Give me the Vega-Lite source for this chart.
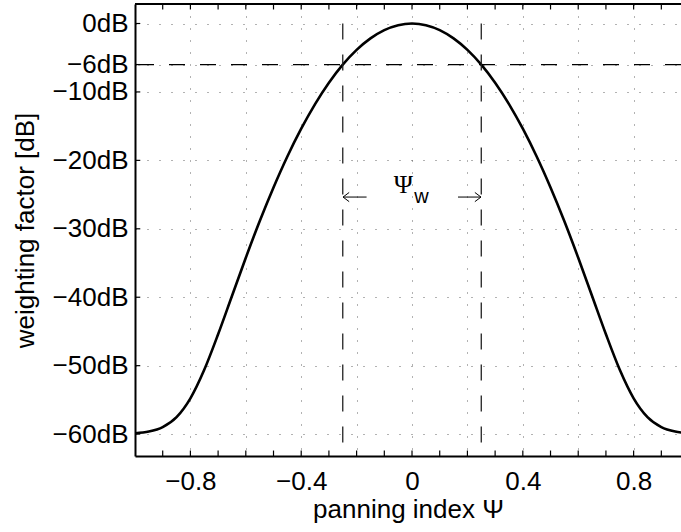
{
  "$schema": "https://vega.github.io/schema/vega-lite/v6.json",
  "width": 546,
  "height": 452,
  "autosize": {"type": "none"},
  "padding": {"left": 135, "top": 4, "right": 0, "bottom": 76},
  "background": "white",
  "config": {
    "view": {"stroke": null},
    "font": "Liberation Sans",
    "axis": {
      "labelFont": "Liberation Sans",
      "titleFont": "Liberation Sans",
      "labelFontSize": 26,
      "titleFontSize": 26,
      "labelColor": "black",
      "titleColor": "black",
      "titleFontWeight": "normal",
      "domainColor": "black",
      "domainWidth": 2,
      "ticks": false,
      "gridColor": "#555",
      "gridWidth": 1,
      "gridDash": [1, 11],
      "gridOpacity": 0.9
    }
  },
  "datasets": {
    "curve": [
      {"psi": -1.0, "db": -59.87}, {"psi": -0.95, "db": -59.62}, {"psi": -0.9, "db": -58.97},
      {"psi": -0.85, "db": -57.52}, {"psi": -0.8, "db": -54.77}, {"psi": -0.75, "db": -50.6},
      {"psi": -0.7, "db": -45.41}, {"psi": -0.65, "db": -39.82}, {"psi": -0.6, "db": -34.23},
      {"psi": -0.55, "db": -28.9}, {"psi": -0.5, "db": -23.96}, {"psi": -0.45, "db": -19.43},
      {"psi": -0.4, "db": -15.37}, {"psi": -0.35, "db": -11.77}, {"psi": -0.3, "db": -8.65},
      {"psi": -0.25, "db": -6.01}, {"psi": -0.2, "db": -3.85}, {"psi": -0.15, "db": -2.17},
      {"psi": -0.1, "db": -0.96}, {"psi": -0.05, "db": -0.24}, {"psi": 0.0, "db": 0.0},
      {"psi": 0.05, "db": -0.24}, {"psi": 0.1, "db": -0.96}, {"psi": 0.15, "db": -2.17},
      {"psi": 0.2, "db": -3.85}, {"psi": 0.25, "db": -6.01}, {"psi": 0.3, "db": -8.65},
      {"psi": 0.35, "db": -11.77}, {"psi": 0.4, "db": -15.37}, {"psi": 0.45, "db": -19.43},
      {"psi": 0.5, "db": -23.96}, {"psi": 0.55, "db": -28.9}, {"psi": 0.6, "db": -34.23},
      {"psi": 0.65, "db": -39.82}, {"psi": 0.7, "db": -45.41}, {"psi": 0.75, "db": -50.6},
      {"psi": 0.8, "db": -54.77}, {"psi": 0.85, "db": -57.52}, {"psi": 0.9, "db": -58.97},
      {"psi": 0.95, "db": -59.62}, {"psi": 1.0, "db": -59.87}
    ],
    "vlines": [
      {"psi": -0.25, "top": 0, "bottom": -63.2},
      {"psi": 0.25, "top": 0, "bottom": -63.2}
    ],
    "arrows": [
      {"from": -0.164, "to": -0.249, "db": -25.36, "side": "left"},
      {"from": 0.166, "to": 0.249, "db": -25.36, "side": "right"}
    ],
    "xticks": [
      {"psi": -0.9}, {"psi": -0.8}, {"psi": -0.7}, {"psi": -0.6}, {"psi": -0.5},
      {"psi": -0.4}, {"psi": -0.3}, {"psi": -0.2}, {"psi": -0.1}, {"psi": 0},
      {"psi": 0.1}, {"psi": 0.2}, {"psi": 0.3}, {"psi": 0.4}, {"psi": 0.5},
      {"psi": 0.6}, {"psi": 0.7}, {"psi": 0.8}, {"psi": 0.9}
    ],
    "yticks": [
      {"db": 0}, {"db": -6}, {"db": -10}, {"db": -20}, {"db": -30},
      {"db": -40}, {"db": -50}, {"db": -60}
    ]
  },
  "layer": [
    {
      "data": {"name": "curve"},
      "mark": {"type": "line", "color": "black", "strokeWidth": 2.6, "interpolate": "monotone", "clip": true},
      "encoding": {
        "x": {
          "field": "psi", "type": "quantitative",
          "scale": {"domain": [-1, 0.971], "nice": false, "zero": false},
          "axis": {
            "title": "panning index Ψ",
            "values": [-1, -0.9, -0.8, -0.7, -0.6, -0.5, -0.4, -0.3, -0.2, -0.1, 0, 0.1, 0.2, 0.3, 0.4, 0.5, 0.6, 0.7, 0.8, 0.9],
            "format": ".1~f",
            "labelExpr": "indexof([-0.8, -0.4, 0, 0.4, 0.8], datum.value) >= 0 ? datum.label : ''",
            "labelOverlap": false,
            "labelPadding": 12,
            "titlePadding": 2,
            "grid": true
          }
        },
        "y": {
          "field": "db", "type": "quantitative",
          "scale": {"domain": [-63.2, 2.85], "nice": false, "zero": false},
          "axis": {
            "title": "weighting factor [dB]",
            "values": [0, -6, -10, -20, -30, -40, -50, -60],
            "format": "d",
            "labelExpr": "datum.label + 'dB'",
            "labelOverlap": false,
            "labelPadding": 7,
            "titlePadding": 14,
            "grid": true
          }
        }
      }
    },
    {
      "data": {"values": [{"db": 2.85}]},
      "mark": {"type": "rule", "color": "black", "strokeWidth": 2},
      "encoding": {"y": {"field": "db", "type": "quantitative"}}
    },
    {
      "data": {"name": "xticks"},
      "mark": {"type": "rule", "color": "black", "strokeWidth": 1.2},
      "encoding": {
        "x": {"field": "psi", "type": "quantitative"},
        "y": {"datum": -63.2, "type": "quantitative"},
        "y2": {"datum": -62.4}
      }
    },
    {
      "data": {"name": "xticks"},
      "mark": {"type": "rule", "color": "black", "strokeWidth": 1.2},
      "encoding": {
        "x": {"field": "psi", "type": "quantitative"},
        "y": {"datum": 2.85, "type": "quantitative"},
        "y2": {"datum": 2.05}
      }
    },
    {
      "data": {"name": "yticks"},
      "mark": {"type": "rule", "color": "black", "strokeWidth": 1.2},
      "encoding": {
        "y": {"field": "db", "type": "quantitative"},
        "x": {"datum": -1, "type": "quantitative"},
        "x2": {"datum": -0.981}
      }
    },
    {
      "data": {"values": [{"db": -6}]},
      "mark": {"type": "rule", "color": "black", "strokeWidth": 1.3, "strokeDash": [16, 15]},
      "encoding": {"y": {"field": "db", "type": "quantitative"}}
    },
    {
      "data": {"name": "vlines"},
      "mark": {"type": "rule", "color": "#222", "strokeWidth": 1.3, "strokeDash": [16, 15]},
      "encoding": {
        "x": {"field": "psi", "type": "quantitative"},
        "y": {"field": "top", "type": "quantitative"},
        "y2": {"field": "bottom"}
      }
    },
    {
      "data": {"name": "arrows"},
      "mark": {"type": "rule", "color": "black", "strokeWidth": 1},
      "encoding": {
        "x": {"field": "from", "type": "quantitative"},
        "x2": {"field": "to"},
        "y": {"field": "db", "type": "quantitative"}
      }
    },
    {
      "data": {"name": "arrows"},
      "transform": [{"filter": "datum.side == 'left'"}],
      "mark": {"type": "point", "shape": "M 1 -0.75 L 0 0 L 1 0.75", "filled": false, "stroke": "black", "strokeWidth": 1, "size": 150, "opacity": 1},
      "encoding": {
        "x": {"field": "to", "type": "quantitative"},
        "y": {"field": "db", "type": "quantitative"}
      }
    },
    {
      "data": {"name": "arrows"},
      "transform": [{"filter": "datum.side == 'right'"}],
      "mark": {"type": "point", "shape": "M -1 -0.75 L 0 0 L -1 0.75", "filled": false, "stroke": "black", "strokeWidth": 1, "size": 150, "opacity": 1},
      "encoding": {
        "x": {"field": "to", "type": "quantitative"},
        "y": {"field": "db", "type": "quantitative"}
      }
    },
    {
      "data": {"values": [{"psi": -0.0314, "db": -24.78, "t": "Ψ"}]},
      "mark": {"type": "text", "font": "Liberation Serif", "fontSize": 26, "color": "black", "align": "center", "baseline": "alphabetic"},
      "encoding": {
        "x": {"field": "psi", "type": "quantitative"},
        "y": {"field": "db", "type": "quantitative"},
        "text": {"field": "t"}
      }
    },
    {
      "data": {"values": [{"psi": 0.0337, "db": -26.24, "t": "w"}]},
      "mark": {"type": "text", "font": "Liberation Sans", "fontSize": 20, "color": "black", "align": "center", "baseline": "alphabetic"},
      "encoding": {
        "x": {"field": "psi", "type": "quantitative"},
        "y": {"field": "db", "type": "quantitative"},
        "text": {"field": "t"}
      }
    }
  ]
}
